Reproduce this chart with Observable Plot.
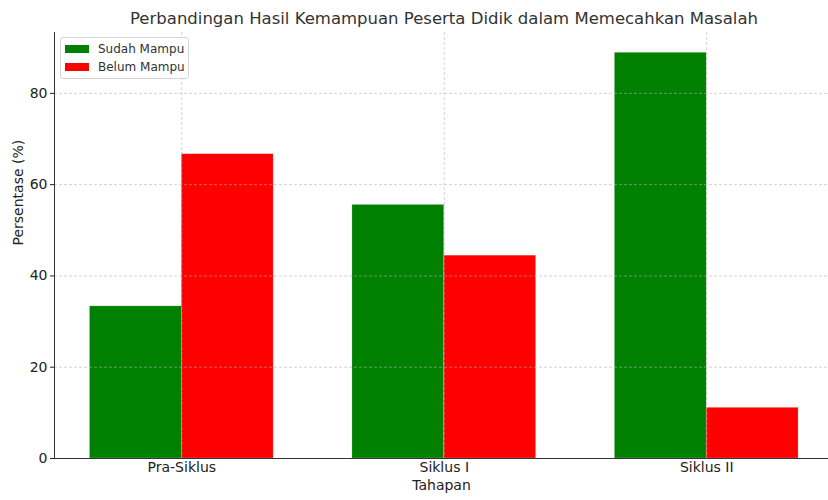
<!DOCTYPE html>
<html>
<head>
<meta charset="utf-8">
<script src="https://cdn.jsdelivr.net/npm/d3@7"></script>
<script src="https://cdn.jsdelivr.net/npm/@observablehq/plot@0.6"></script>
<style>
  html, body { margin: 0; padding: 0; background: #fff; }
  #wrap { position: relative; width: 828px; height: 500px; font-family: "DejaVu Sans", sans-serif; }
  #title { position: absolute; left: 54px; width: 780px; top: 9px; text-align: center; font-size: 16.5px; color: #333; white-space: nowrap; }
  #chart { position: absolute; left: 0; top: 32px; }
  #legend { position: absolute; left: 60px; top: 37px; border: 1px solid #d5d5d5; border-radius: 3px; background: rgba(255,255,255,0.8); padding: 2px 3px 2px 4px; font-size: 12px; color: #333; }
  .item { display: flex; align-items: center; height: 18px; }
  .sw { width: 24px; height: 8px; margin-right: 9px; }
</style>
</head>
<body>
<div id="wrap">
  <div id="title"></div>
  <div id="chart"></div>
  <div id="legend"></div>
</div>
<script>
const titleText = "Perbandingan Hasil Kemampuan Peserta Didik dalam Memecahkan Masalah";
const categories = ["Pra-Siklus", "Siklus I", "Siklus II"];
const seriesNames = ["Sudah Mampu", "Belum Mampu"];
const sudahMampu = [33.33, 55.56, 88.89];
const belumMampu = [66.67, 44.44, 11.11];
const seriesColors = ["#008000", "#ff0000"];
const yTicks = [0, 20, 40, 60, 80];
const xLabel = "Tahapan";
const yLabel = "Persentase (%)";

const barWidth = 0.35;
const seriesValues = [sudahMampu, belumMampu];
const table = [];
categories.forEach((c, i) => {
  seriesNames.forEach((s, k) => {
    table.push({
      category: c,
      series: s,
      value: seriesValues[k][i],
      x1: i + (k - 1) * barWidth,
      x2: i + k * barWidth
    });
  });
});

document.getElementById("title").textContent = titleText;

const chart = Plot.plot({
  width: 828,
  height: 468,
  marginTop: 0,
  marginBottom: 42,
  marginLeft: 54,
  marginRight: 0,
  style: { fontFamily: "DejaVu Sans, sans-serif", fontSize: "14px", color: "#222" },
  x: { domain: [-0.485, 2.464] },
  y: { domain: [0, 93.33] },
  color: { domain: seriesNames, range: seriesColors },
  marks: [
    Plot.rect(table, { x1: "x1", x2: "x2", y1: 0, y2: "value", fill: "series", stroke: "#ffffff", strokeOpacity: 0.35, strokeWidth: 0.6 }),
    Plot.gridY(yTicks, { stroke: "#b0b0b0", strokeDasharray: "3,2", strokeOpacity: 0.8, strokeWidth: 0.7 }),
    Plot.gridX(d3.range(categories.length), { stroke: "#b0b0b0", strokeDasharray: "3,2", strokeOpacity: 0.8, strokeWidth: 0.7 }),
    Plot.axisY(yTicks, { tickSize: 4, tickPadding: 3, label: null, fontSize: 14 }),
    Plot.axisX(d3.range(categories.length), { tickSize: 0, tickPadding: 4, tickFormat: (d) => categories[d], label: null, fontSize: 14 }),
    Plot.text([yLabel], { frameAnchor: "left", rotate: -90, dx: -36, fontSize: 14, fill: "#222" }),
    Plot.text([xLabel], { frameAnchor: "bottom", dy: 31, fontSize: 14, fill: "#222" }),
    Plot.frame({ anchor: "left", stroke: "#333", strokeWidth: 1 }),
    Plot.frame({ anchor: "bottom", stroke: "#333", strokeWidth: 1 })
  ]
});
document.getElementById("chart").appendChild(chart);

const legend = document.getElementById("legend");
seriesNames.forEach((s, k) => {
  const item = document.createElement("div");
  item.className = "item";
  const sw = document.createElement("div");
  sw.className = "sw";
  sw.style.background = seriesColors[k];
  const label = document.createElement("span");
  label.textContent = s;
  item.appendChild(sw);
  item.appendChild(label);
  legend.appendChild(item);
});
</script>
</body>
</html>
